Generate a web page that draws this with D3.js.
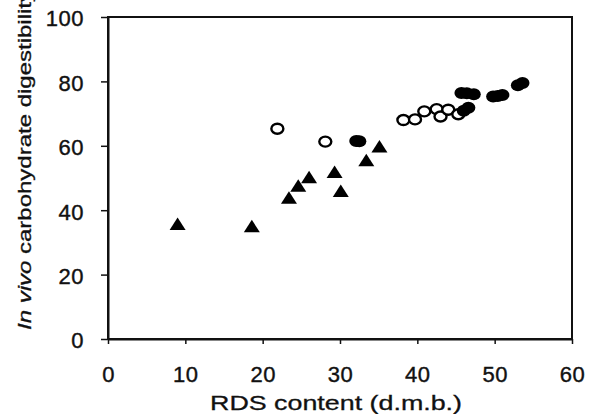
<!DOCTYPE html>
<html><head><meta charset="utf-8">
<script src="https://cdn.jsdelivr.net/npm/d3@7"></script>
<style>body{margin:0;background:#fff}svg{display:block}text{font-family:"Liberation Sans",Arial,sans-serif;fill:#111}</style>
</head><body>
<svg id="c" width="591" height="414"></svg>
<script>
// Data
const triangleX = [9.0, 18.6, 23.4, 24.6, 26.0, 29.3, 30.1, 33.4, 35.1];
const triangleY = [35.7, 35.0, 43.9, 47.6, 50.2, 51.9, 46.0, 55.5, 59.8];
const openX = [21.9, 28.1, 38.2, 39.7, 40.9, 42.5, 43.0, 44.0, 45.3];
const openY = [65.3, 61.3, 68.0, 68.2, 70.7, 71.4, 69.1, 71.2, 69.8];
const filledX = [32.1, 32.5, 45.7, 46.4, 47.3, 46.0, 46.6, 49.8, 50.4, 51.0, 53.0, 53.6];
const filledY = [61.5, 61.4, 76.4, 76.3, 76.0, 70.9, 71.8, 75.3, 75.5, 75.8, 78.8, 79.5];
const xTicks = [0, 10, 20, 30, 40, 50, 60];
const yTicks = [0, 20, 40, 60, 80, 100];
const xTitle = "RDS content (d.m.b.)";
const yTitleItalic = "In vivo";
const yTitleRest = " carbohydrate digestibility";

const svg = d3.select("#c");
const L = 108, R = 572, T = 17, B = 339;
const x = d3.scaleLinear().domain([0, 60]).range([L, R]);
const y = d3.scaleLinear().domain([0, 100]).range([B, T]);

// frame
svg.append("rect").attr("x", L).attr("y", T).attr("width", R - L).attr("height", B - T)
  .attr("fill", "none").attr("stroke", "#111").attr("stroke-width", 2);

const xa = svg.append("g").attr("transform", `translate(0,${B})`)
  .call(d3.axisBottom(x).tickValues(xTicks).tickSize(5).tickPadding(22).tickSizeOuter(0));
const ya = svg.append("g").attr("transform", `translate(${L},0)`)
  .call(d3.axisLeft(y).tickValues(yTicks).tickSize(7).tickPadding(17).tickSizeOuter(0));
[xa, ya].forEach(a => {
  a.select(".domain").attr("stroke", "#111").attr("stroke-width", 2);
  a.selectAll(".tick line").attr("stroke", "#111").attr("stroke-width", 1.5);
  a.selectAll(".tick text").attr("font-size", 22).attr("fill", "#111")
    .attr("stroke", "#111").attr("stroke-width", 0.4)
    .style("font-family", '"Liberation Sans",Arial,sans-serif').style("letter-spacing", "0.5px");
});
ya.selectAll(".tick text").attr("dy", "0.4em");

// axis titles
svg.append("text").attr("x", 336).attr("y", 410).attr("text-anchor", "middle")
  .attr("font-size", 20).attr("stroke", "#111").attr("stroke-width", 0.3)
  .attr("textLength", 252).attr("lengthAdjust", "spacingAndGlyphs").text(xTitle);
const yt = svg.append("text").attr("transform", "translate(31,330) rotate(-90)")
  .attr("font-size", 18).attr("stroke", "#111").attr("stroke-width", 0.3)
  .attr("textLength", 340).attr("lengthAdjust", "spacingAndGlyphs");
yt.append("tspan").attr("font-style", "italic").text(yTitleItalic);
yt.append("tspan").text(yTitleRest);

// markers
const triType = { draw(ctx) { ctx.moveTo(0, -6.5); ctx.lineTo(8, 6); ctx.lineTo(-8, 6); ctx.closePath(); } };
const tri = d3.symbol().type(triType);
svg.append("g").selectAll("path").data(d3.range(triangleX.length)).join("path")
  .attr("d", tri).attr("fill", "#000")
  .attr("transform", i => `translate(${x(triangleX[i])},${y(triangleY[i])})`);
svg.append("g").selectAll("ellipse").data(d3.range(openX.length)).join("ellipse")
  .attr("cx", i => x(openX[i])).attr("cy", i => y(openY[i])).attr("rx", 6).attr("ry", 5)
  .attr("fill", "#fff").attr("stroke", "#000").attr("stroke-width", 2.4);
svg.append("g").selectAll("ellipse").data(d3.range(filledX.length)).join("ellipse")
  .attr("cx", i => x(filledX[i])).attr("cy", i => y(filledY[i])).attr("rx", 7).attr("ry", 6)
  .attr("fill", "#000");
</script>
</body></html>
